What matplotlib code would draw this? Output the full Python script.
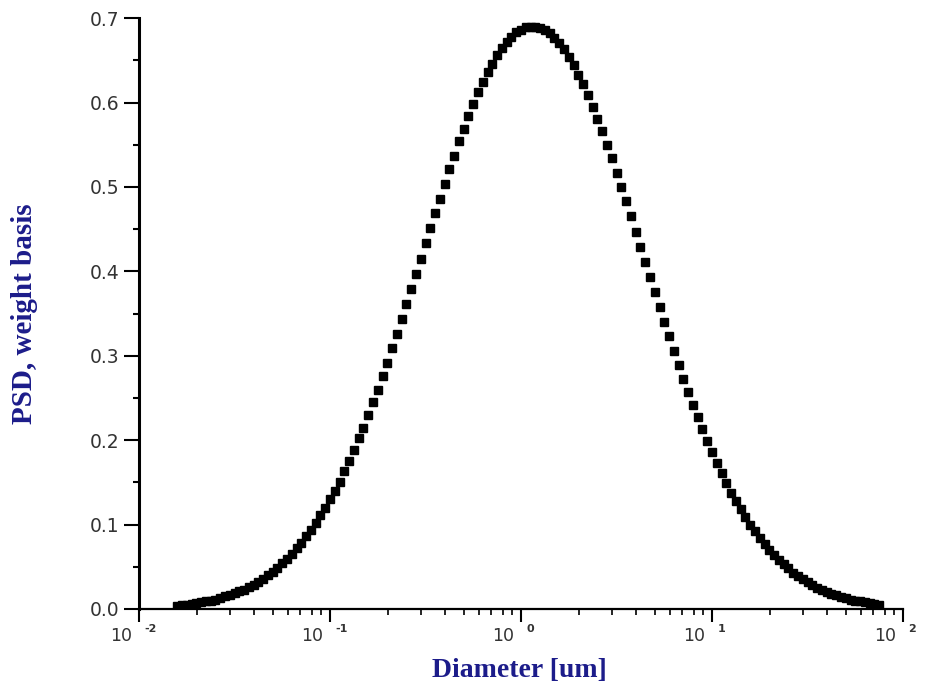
import numpy as np
import matplotlib
matplotlib.use("Agg")
import matplotlib.pyplot as plt

# diameters: evenly spaced in log10, from 10^-1.8 um, 0.025 decade apart
log_d_start = -1.8
log_d_step = 0.025

# PSD (weight basis), left to right
psd = [
    0.004, 0.005, 0.005, 0.006, 0.007, 0.008, 0.009, 0.010, 0.011, 0.013,
    0.015, 0.016, 0.019, 0.021, 0.023, 0.026, 0.029, 0.032, 0.036, 0.040,
    0.044, 0.049, 0.054, 0.059, 0.065, 0.072, 0.078, 0.086, 0.093, 0.102,
    0.111, 0.120, 0.130, 0.140, 0.151, 0.163, 0.175, 0.188, 0.202, 0.215,
    0.230, 0.245, 0.260, 0.276, 0.292, 0.309, 0.326, 0.344, 0.361, 0.379,
    0.397, 0.415, 0.433, 0.451, 0.469, 0.486, 0.504, 0.521, 0.537, 0.554,
    0.569, 0.584, 0.598, 0.612, 0.624, 0.636, 0.646, 0.656, 0.664, 0.672,
    0.678, 0.683, 0.686, 0.689, 0.690,
    0.690, 0.688, 0.686, 0.682, 0.677, 0.670, 0.663, 0.654, 0.644, 0.633,
    0.622, 0.609, 0.595, 0.581, 0.566, 0.550, 0.534, 0.517, 0.500, 0.483,
    0.465, 0.447, 0.429, 0.411, 0.393, 0.375, 0.358, 0.340, 0.323, 0.306,
    0.289, 0.273, 0.257, 0.242, 0.227, 0.213, 0.199, 0.186, 0.173, 0.161,
    0.149, 0.138, 0.128, 0.118, 0.109, 0.100, 0.092, 0.084, 0.077, 0.070,
    0.064, 0.058, 0.053, 0.048, 0.043, 0.039, 0.035, 0.032, 0.028, 0.025,
    0.023, 0.020, 0.018, 0.016, 0.014, 0.013, 0.011, 0.010, 0.009, 0.008,
    0.007, 0.006, 0.005,
]
diam = 10 ** (log_d_start + log_d_step * np.arange(len(psd)))

x_exps = [-2, -1, 0, 1, 2]
y_ticks = [0.0, 0.1, 0.2, 0.3, 0.4, 0.5, 0.6, 0.7]

fig = plt.figure(figsize=(9.28, 6.96), dpi=100)
ax = fig.add_axes([0.1498, 0.125, 0.8233, 0.849])

ax.plot(diam, psd, ls="none", marker="s", ms=5.2, color="black", mec="black")

ax.set_xscale("log")
ax.set_xlim(1e-2, 1e2)
ax.set_ylim(0, 0.7)

for s in ["top", "right"]:
    ax.spines[s].set_visible(False)
ax.spines["left"].set_linewidth(2.2)
ax.spines["bottom"].set_linewidth(1.6)

ax.set_yticks(y_ticks)
ax.set_yticklabels(["%.1f" % v for v in y_ticks])
ax.set_yticks(np.arange(0.05, 0.7, 0.1), minor=True)
ax.tick_params(axis="y", which="major", length=11, width=1.5, pad=3,
               labelsize=13.5, labelcolor="#333333")
ax.tick_params(axis="y", which="minor", length=4, width=1.5)

ax.set_xticks([10.0 ** e for e in x_exps])
ax.set_xticklabels([])
ax.tick_params(axis="x", which="major", length=9, width=1.5)
ax.tick_params(axis="x", which="minor", length=4, width=1.2)

for e in x_exps:
    ax.annotate("10", xy=(10.0 ** e, 0), xycoords=("data", "axes fraction"),
                xytext=(-5, -13), textcoords="offset points", ha="right", va="top",
                fontsize=12.5, color="#333333")
    ax.annotate(str(e), xy=(10.0 ** e, 0), xycoords=("data", "axes fraction"),
                xytext=(4, -11), textcoords="offset points", ha="left", va="top",
                fontsize=8, color="#333333", fontweight="bold")

fig.text(0.560, 0.036, "Diameter [um]", ha="center", va="center",
         family="Liberation Serif", fontweight="bold", fontsize=20, color="#1c1c8a")
fig.text(0.026, 0.55, "PSD, weight basis", ha="center", va="center", rotation=90,
         family="Liberation Serif", fontweight="bold", fontsize=21, color="#1c1c8a")

fig.savefig("out.png", dpi=100)
